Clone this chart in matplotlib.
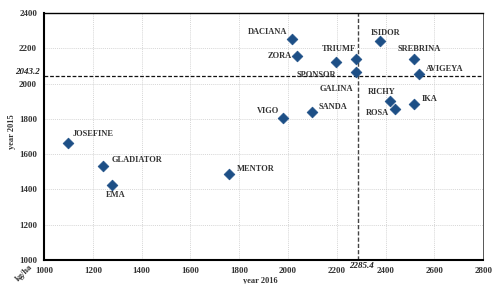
import matplotlib.pyplot as plt
import numpy as np

# cultivar yields, kg/ha
names = ["JOSEFINE", "GLADIATOR", "EMA", "MENTOR", "DACIANA", "ZORA",
         "SPONSOR", "TRIUMF", "GALINA", "ISIDOR", "SREBRINA", "AVIGEYA",
         "RICHY", "ROSA", "IKA", "SANDA", "VIGO"]
y2016 = [1100, 1240, 1280, 1760, 2018, 2039,
         2197, 2278, 2278, 2379, 2518, 2539,
         2419, 2438, 2517, 2097, 1979]
y2015 = [1665, 1535, 1423, 1490, 2254, 2158,
         2124, 2139, 2066, 2241, 2139, 2054,
         1903, 1856, 1886, 1839, 1805]
mean2016 = 2285.4
mean2015 = 2043.2

# label offsets in pixels (dx, dy, ha)
offs = [(4, 9, 'left'), (9, 6, 'left'), (-6, -10, 'left'), (7, 5, 'left'),
        (-5, 7, 'right'), (-6, 0, 'right'), (-20, -13, 'center'), (-17, 10, 'center'),
        (-19, -17, 'center'), (5, 8, 'center'), (5, 10, 'center'), (6, 5, 'left'),
        (-8, 9, 'center'), (-6, -4, 'right'), (8, 5, 'left'), (7, 5, 'left'),
        (-4, 7, 'right')]

plt.rcParams['font.family'] = ['Liberation Serif', 'DejaVu Serif']
plt.rcParams['font.weight'] = 'bold'

fig = plt.figure(figsize=(4.92, 2.84), dpi=100)
ax = fig.add_axes([0.0894, 0.0845, 0.8926, 0.8695])

ax.set_xlim(1000, 2800)
ax.set_ylim(1000, 2400)
ax.set_xticks(np.arange(1000, 2801, 200))
ax.set_yticks(np.arange(1000, 2401, 200))
ax.grid(True, color='#c8c8c8', linestyle=(0, (1.5, 1.5)), linewidth=0.5)
ax.set_axisbelow(True)
ax.tick_params(length=0, labelsize=6.5, pad=5)
for lab in ax.get_xticklabels() + ax.get_yticklabels():
    lab.set_fontweight('bold')
    lab.set_color('#333333')

ax.spines['left'].set_linewidth(1.5)
ax.spines['bottom'].set_linewidth(1.5)
ax.spines['top'].set_linewidth(1.0)
ax.spines['right'].set_linewidth(0.7)
ax.spines['right'].set_color('#555555')

ax.axvline(mean2016, color='#444444', linestyle=(0, (3, 1.5)), linewidth=1.0)
ax.axhline(mean2015, color='#111111', linestyle=(0, (3, 1.5)), linewidth=0.9)

ax.scatter(y2016, y2015, marker='D', s=30, color='#1d4f86',
           edgecolors='#1d4f86', linewidths=0.5, zorder=3)

for n, x, y, (dx, dy, ha) in zip(names, y2016, y2015, offs):
    ax.annotate(n, (x, y), xytext=(dx, dy), textcoords='offset pixels',
                ha=ha, va='center', fontsize=6, fontweight='bold',
                color='#333333')

ax.text(-0.01, mean2015, f"{mean2015}", transform=ax.get_yaxis_transform(),
        ha='right', va='bottom', fontsize=6.5, style='italic', color='#222222')
ax.annotate(f"{mean2016}", (mean2016, 1000), xytext=(4, -6),
            textcoords='offset pixels', ha='center', va='center',
            fontsize=6.5, style='italic', color='#222222')

fig.text(0.53, -0.003, "year 2016", ha='center', va='bottom', fontsize=6,
         fontweight='bold', color='#333333')
fig.text(0.024, 0.535, "year 2015", ha='center', va='center', rotation=90,
         fontsize=6, fontweight='bold', color='#333333')
fig.text(0.05, 0.038, "kg/ha", ha='center', va='center', rotation=45,
         fontsize=6, fontweight='bold', color='#333333')

fig.savefig('out.png', dpi=100)
